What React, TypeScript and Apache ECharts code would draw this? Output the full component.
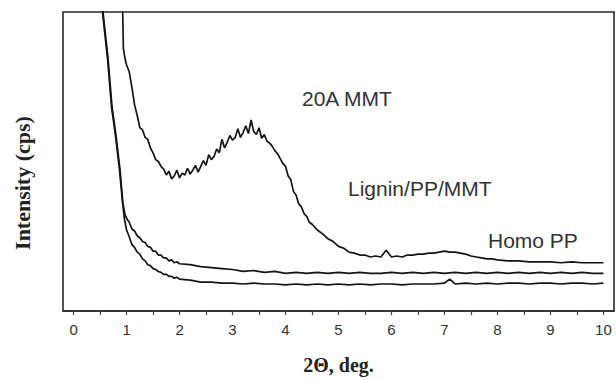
import React, { useEffect, useRef } from "react";
import * as echarts from "echarts";

// 20A MMT (top curve): [2θ, intensity]
const mmt20A: [number, number][] = [
  [0.92, 330], [0.94, 272], [0.97, 262], [1.0, 255], [1.05, 248], [1.1, 232], [1.15, 214], [1.2, 203],
  [1.25, 190], [1.3, 188], [1.35, 180], [1.4, 178], [1.45, 169], [1.5, 164], [1.55, 157], [1.6, 155],
  [1.65, 150], [1.7, 147], [1.75, 141], [1.8, 145], [1.85, 137], [1.9, 140], [1.95, 146], [2.0, 138],
  [2.05, 143], [2.1, 141], [2.15, 148], [2.2, 142], [2.25, 146], [2.3, 151], [2.35, 144], [2.4, 150],
  [2.45, 156], [2.5, 151], [2.55, 162], [2.6, 157], [2.65, 160], [2.7, 168], [2.75, 164], [2.8, 178],
  [2.85, 169], [2.9, 175], [2.95, 182], [3.0, 177], [3.05, 180], [3.1, 189], [3.15, 180], [3.2, 185],
  [3.25, 192], [3.3, 184], [3.35, 198], [3.4, 186], [3.45, 183], [3.5, 190], [3.55, 179], [3.6, 183],
  [3.65, 176], [3.7, 174], [3.75, 171], [3.8, 166], [3.85, 163], [3.9, 158], [3.95, 153], [4.0, 150],
  [4.05, 140], [4.1, 136], [4.15, 124], [4.2, 120], [4.25, 111], [4.3, 108], [4.35, 101], [4.4, 98],
  [4.45, 92], [4.5, 90], [4.6, 84], [4.7, 80], [4.8, 75], [4.9, 72], [5.0, 67], [5.1, 65], [5.2, 61],
  [5.3, 60], [5.4, 58], [5.5, 58], [5.6, 56], [5.7, 57], [5.8, 56], [5.9, 63], [6.0, 56], [6.1, 57],
  [6.2, 56], [6.3, 58], [6.4, 58], [6.5, 59], [6.6, 59], [6.7, 60], [6.8, 60], [6.9, 61], [7.0, 62],
  [7.1, 61], [7.2, 61], [7.3, 60], [7.4, 59], [7.5, 57], [7.6, 56], [7.7, 55], [7.8, 54], [7.9, 54],
  [8.0, 53], [8.2, 52], [8.4, 52], [8.6, 51], [8.8, 51], [9.0, 51], [9.2, 50], [9.4, 51], [9.6, 50],
  [9.8, 50], [10.0, 50],
];

// Lignin/PP/MMT (middle curve)
const ligninPPMMT: [number, number][] = [
  [0.53, 330], [0.555, 310], [0.65, 262], [0.725, 212], [0.8, 182], [0.875, 147], [0.93, 112],
  [0.97, 100], [1.01, 95], [1.05, 92], [1.1, 85], [1.15, 83], [1.2, 78], [1.25, 76], [1.3, 72],
  [1.35, 71], [1.4, 67], [1.45, 66], [1.5, 62], [1.55, 62], [1.6, 58], [1.65, 58], [1.7, 55],
  [1.75, 55], [1.8, 52], [1.85, 53], [1.9, 50], [1.95, 51], [2.0, 49], [2.2, 48], [2.4, 46],
  [2.6, 45], [2.8, 44], [3.0, 43], [3.2, 41], [3.4, 42], [3.6, 40], [3.8, 41], [4.0, 39],
  [4.2, 40], [4.4, 39], [4.6, 40], [4.8, 39], [5.0, 40], [5.2, 39], [5.4, 40], [5.6, 39],
  [5.8, 39], [6.0, 40], [6.2, 39], [6.4, 40], [6.6, 39], [6.8, 40], [7.0, 39], [7.2, 40],
  [7.4, 39], [7.6, 40], [7.8, 39], [8.0, 40], [8.2, 39], [8.4, 40], [8.6, 39], [8.8, 40],
  [9.0, 39], [9.2, 40], [9.4, 39], [9.6, 40], [9.8, 39], [10.0, 39],
];

// Homo PP (bottom curve)
const homoPP: [number, number][] = [
  [0.52, 330], [0.545, 310], [0.64, 262], [0.715, 212], [0.79, 182], [0.865, 147], [0.925, 112],
  [0.96, 95], [1.0, 84], [1.05, 77], [1.1, 69], [1.15, 66], [1.2, 61], [1.25, 59], [1.3, 54],
  [1.35, 52], [1.4, 48], [1.45, 47], [1.5, 44], [1.55, 43], [1.6, 41], [1.65, 40], [1.7, 38],
  [1.75, 38], [1.8, 36], [1.85, 36], [1.9, 34], [1.95, 35], [2.0, 33], [2.2, 32], [2.4, 30],
  [2.6, 30], [2.8, 29], [3.0, 29], [3.2, 28], [3.4, 29], [3.6, 28], [3.8, 28], [4.0, 27],
  [4.2, 28], [4.4, 27], [4.6, 28], [4.8, 27], [5.0, 28], [5.2, 27], [5.4, 28], [5.6, 27],
  [5.8, 28], [6.0, 28], [6.2, 27], [6.4, 28], [6.6, 28], [6.8, 28], [7.0, 29], [7.1, 33],
  [7.2, 28], [7.4, 29], [7.6, 28], [7.8, 29], [8.0, 28], [8.2, 29], [8.4, 29], [8.6, 28],
  [8.8, 29], [9.0, 29], [9.2, 28], [9.4, 29], [9.6, 29], [9.8, 28], [10.0, 29],
];

const xTickLabels = [0, 1, 2, 3, 4, 5, 6, 7, 8, 9, 10];
const xTickMarks = [0, 0.5, 1, 1.5, 2, 2.5, 3, 3.5, 4, 4.5, 5, 5.5, 6, 6.5, 7, 7.5, 8, 8.5, 9, 9.5, 10];

const curveLabels = [
  { text: "20A MMT", x: 302, y: 98 },
  { text: "Lignin/PP/MMT", x: 348, y: 188 },
  { text: "Homo PP", x: 488, y: 240 },
];

export default function App() {
  const ref = useRef<HTMLDivElement>(null);
  useEffect(() => {
    if (!ref.current) return;
    const chart = echarts.init(ref.current, null, { renderer: "svg" });
    const lineSeries = (name: string, data: [number, number][]) => ({
      name,
      type: "line",
      data,
      showSymbol: false,
      clip: true,
      lineStyle: { color: "#151515", width: 1.7 },
      itemStyle: { color: "#151515" },
    });
    chart.setOption({
      animation: false,
      backgroundColor: "#ffffff",
      grid: {
        left: 63,
        right: 2,
        top: 12,
        bottom: 58,
        show: true,
        borderColor: "#2a2a2a",
        borderWidth: 1.6,
      },
      xAxis: {
        type: "value",
        min: -0.2,
        max: 10.2,
        name: "2Θ, deg.",
        nameLocation: "middle",
        nameGap: 44,
        nameTextStyle: {
          fontFamily: "Liberation Serif",
          fontWeight: "bold",
          fontSize: 20,
          color: "#222",
        },
        axisLine: { show: true, lineStyle: { color: "#2a2a2a", width: 1.6 } },
        axisTick: {
          show: true,
          inside: false,
          length: 4,
          customValues: xTickMarks,
          lineStyle: { color: "#444", width: 1.2 },
        },
        axisLabel: {
          customValues: xTickLabels,
          margin: 11,
          fontFamily: "Liberation Sans",
          fontSize: 15,
          color: "#333",
        },
        splitLine: { show: false },
      },
      yAxis: {
        type: "value",
        min: 0,
        max: 310,
        axisLine: { show: false },
        axisTick: { show: false },
        axisLabel: { show: false },
        splitLine: { show: false },
      },
      graphic: [
        {
          type: "text",
          x: 22,
          y: 183,
          rotation: Math.PI / 2,
          style: {
            text: "Intensity (cps)",
            fontFamily: "Liberation Serif",
            fontWeight: "bold",
            fontSize: 22,
            fill: "#222",
            align: "center",
            verticalAlign: "middle",
          },
        },
        ...curveLabels.map((l) => ({
          type: "text",
          x: l.x,
          y: l.y,
          style: {
            text: l.text,
            fontFamily: "Liberation Sans",
            fontSize: 21,
            fill: "#333",
            align: "left",
            verticalAlign: "middle",
          },
        })),
      ],
      series: [
        lineSeries("20A MMT", mmt20A),
        lineSeries("Lignin/PP/MMT", ligninPPMMT),
        lineSeries("Homo PP", homoPP),
      ],
    });
    return () => chart.dispose();
  }, []);
  return <div ref={ref} style={{ width: 616, height: 380, position: "absolute", left: 0, top: 0 }} />;
}
